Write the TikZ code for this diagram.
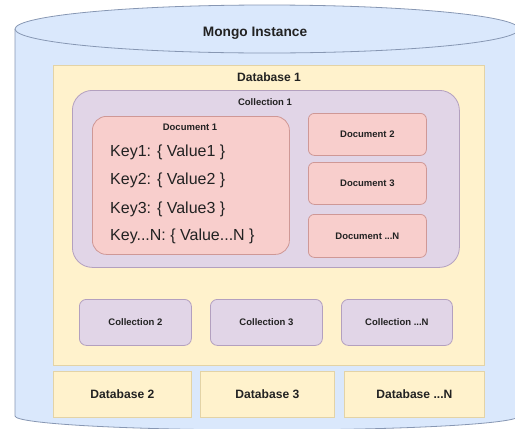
\documentclass[tikz,border=0pt]{standalone}
\usepackage{fontspec}
\setmainfont{Liberation Sans}
\definecolor{cylfill}{HTML}{DAE8FC}
\definecolor{cylline}{HTML}{8797B3}
\definecolor{dbfill}{HTML}{FFF2CC}
\definecolor{dbline}{HTML}{E3D3A6}
\definecolor{colfill}{HTML}{E1D5E7}
\definecolor{colline}{HTML}{B3A0BF}
\definecolor{docfill}{HTML}{F8CECC}
\definecolor{docline}{HTML}{CF9896}
\definecolor{txt}{HTML}{222222}
\begin{document}
\begin{tikzpicture}[x=1pt,y=-1pt,
  box/.style={draw, line width=0.8pt, anchor=north west, inner sep=0pt, text=txt,
    font=\bfseries\fontsize{9.5}{11}\selectfont},
  dbbox/.style={box, fill=dbfill, draw=dbline},
  colbox/.style={box, fill=colfill, draw=colline},
  docbox/.style={box, fill=docfill, draw=docline},
  title/.style={text=txt, inner sep=0pt, font=\bfseries\fontsize{9.5}{11}\selectfont},
  bigtitle/.style={text=txt, inner sep=0pt, font=\bfseries\fontsize{12.1}{14}\selectfont},
  keytext/.style={text=txt, inner sep=0pt, anchor=west, font=\fontsize{16}{19}\selectfont}
]
\useasboundingbox (0,0) rectangle (515,429);
\clip (0,0) rectangle (515,429);
% cylinder (Mongo instance)
\fill[cylfill] (15,29) -- (15,416) arc[start angle=180, end angle=0, x radius=252, y radius=14]
  -- (519,29) -- cycle;
\draw[cylline, line width=0.8pt] (15,29) -- (15,416) arc[start angle=180, end angle=0, x radius=252, y radius=14]
  -- (519,29);
\draw[cylline, line width=0.8pt, fill=cylfill] (267,29) ellipse[x radius=252, y radius=24];
\node[text=txt, inner sep=0pt, font=\bfseries\fontsize{13.7}{16}\selectfont] (mongo) at (255,33) {Mongo Instance};

% Database 1
\node[dbbox, minimum width=431pt, minimum height=300pt] (db1) at (53,65) {};
\node[bigtitle] (db1t) at (269,77) {Database 1};

% Collection 1
\node[colbox, rounded corners=20pt, minimum width=387pt, minimum height=177pt] (col1) at (72,90) {};
\node[title] (col1t) at (265,102) {Collection 1};

% Document 1
\node[docbox, rounded corners=14pt, minimum width=197pt, minimum height=138pt] (doc1) at (92,116) {};
\node[title] (doc1t) at (190,127) {Document 1};
\node[keytext] (k1) at (110,152) {Key1: \{ Value1 \}};
\node[keytext] (k2) at (110,180) {Key2: \{ Value2 \}};
\node[keytext] (k3) at (110,209) {Key3: \{ Value3 \}};
\node[keytext] (kn) at (110,236) {Key...N: \{ Value...N \}};

% Other documents
\node[docbox, rounded corners=6pt, minimum width=118pt, minimum height=42pt] (doc2) at (308,113) {Document 2};
\node[docbox, rounded corners=6pt, minimum width=118pt, minimum height=42pt] (doc3) at (308,162) {Document 3};
\node[docbox, rounded corners=6pt, minimum width=118pt, minimum height=43pt] (docn) at (308,214) {Document ...N};

% Other collections
\node[colbox, rounded corners=7pt, minimum width=112pt, minimum height=46pt] (col2) at (79,299) {Collection 2};
\node[colbox, rounded corners=7pt, minimum width=112pt, minimum height=46pt] (col3) at (210,299) {Collection 3};
\node[colbox, rounded corners=7pt, minimum width=111pt, minimum height=46pt] (coln) at (341,299) {Collection ...N};

% Other databases
\node[dbbox, font=\bfseries\fontsize{12.1}{14}\selectfont, minimum width=138pt, minimum height=46pt] (db2) at (53,371) {Database 2};
\node[dbbox, font=\bfseries\fontsize{12.1}{14}\selectfont, minimum width=134pt, minimum height=46pt] (db3) at (200,371) {Database 3};
\node[dbbox, font=\bfseries\fontsize{12.1}{14}\selectfont, minimum width=140pt, minimum height=46pt] (dbn) at (344,371) {Database ...N};
\end{tikzpicture}
\end{document}
